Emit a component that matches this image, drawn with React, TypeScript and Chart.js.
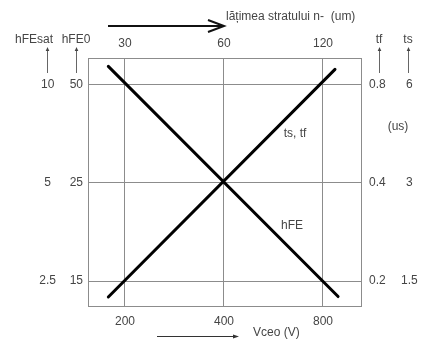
import React, { useEffect, useRef } from 'react';
import { Chart, registerables } from 'chart.js';

Chart.register(...registerables);

// Tick values / labels
const vceoTicks = [200, 400, 800];
const widthTicks = [30, 60, 120];
const hFEsatTicks = [2.5, 5, 10];
const hFE0TickValues = [12.5, 25, 50];
const hFE0TickLabels = ['15', '25', '50'];
const tfTicks = [0.2, 0.4, 0.8];
const tsTicks = [1.5, 3, 6];

// Series
const hFEVceo = [178, 889];
const hFEValues = [57, 11.2]; // in hFE0 units
const tsVceo = [178, 870];
const tsValues = [1.34, 6.7]; // ts in us

// Axis ranges
const vceoRange = [154.4, 1043.8];
const widthRange = [23.16, 156.6];
const hFEsatRange = [2.095, 12.1];
const hFE0Range = [10.475, 60.5];
const tfRange = [0.1676, 0.968];
const tsRange = [1.257, 7.26];

const FONT = "'Liberation Sans', Arial, sans-serif";
const TEXT = '#454545';
const GRID = '#8c8c8c';

const setTicks = (vals: number[]) => (s: any) => {
  s.ticks = vals.map((v) => ({ value: v }));
};

const overlayPlugin = {
  id: 'overlay',
  afterDraw(chart: any) {
    const ctx = chart.ctx as CanvasRenderingContext2D;
    ctx.save();
    ctx.fillStyle = TEXT;
    ctx.font = `12px ${FONT}`;
    ctx.textAlign = 'center';
    ctx.textBaseline = 'middle';
    // axis titles above label columns
    ctx.fillText('hFEsat', 34, 40);
    ctx.fillText('hFE0', 76, 40);
    ctx.fillText('tf', 379, 40);
    ctx.fillText('ts', 408, 40);
    ctx.fillText('(us)', 398, 127);
    ctx.fillText('ts, tf', 295, 134);
    ctx.fillText('hFE', 292, 226);
    ctx.textAlign = 'left';
    ctx.fillText('lățimea stratului n-  (um)', 226, 17);
    ctx.fillText('Vceo (V)', 253, 333);

    // small up arrows
    ctx.strokeStyle = '#666';
    ctx.lineWidth = 1;
    for (const x of [47.5, 76.5, 379.5, 408.5]) {
      ctx.beginPath();
      ctx.moveTo(x, 73);
      ctx.lineTo(x, 49);
      ctx.stroke();
      ctx.beginPath();
      ctx.fillStyle = '#444';
      ctx.moveTo(x, 47);
      ctx.lineTo(x - 1.8, 51);
      ctx.lineTo(x + 1.8, 51);
      ctx.closePath();
      ctx.fill();
    }

    // top big arrow
    ctx.strokeStyle = '#111';
    ctx.lineWidth = 2;
    ctx.beginPath();
    ctx.moveTo(108, 26);
    ctx.lineTo(222, 26);
    ctx.stroke();
    ctx.beginPath();
    ctx.moveTo(208, 20);
    ctx.lineTo(224, 26);
    ctx.lineTo(208, 32);
    ctx.stroke();

    // bottom small arrow
    ctx.strokeStyle = '#333';
    ctx.lineWidth = 1;
    ctx.beginPath();
    ctx.moveTo(157, 336.5);
    ctx.lineTo(234, 336.5);
    ctx.stroke();
    ctx.fillStyle = '#333';
    ctx.beginPath();
    ctx.moveTo(239, 336.5);
    ctx.lineTo(233, 334.5);
    ctx.lineTo(233, 338.5);
    ctx.closePath();
    ctx.fill();
    ctx.restore();
  },
};

export default function App() {
  const ref = useRef<HTMLCanvasElement | null>(null);
  useEffect(() => {
    if (!ref.current) return;
    const tickFont = { family: FONT, size: 12 };
    const chart = new Chart(ref.current, {
      type: 'scatter',
      data: {
        datasets: [
          {
            label: 'hFE',
            data: hFEVceo.map((x, i) => ({ x, y: hFEValues[i] })),
            showLine: true,
            borderColor: '#000',
            borderWidth: 3,
            borderCapStyle: 'round',
            pointRadius: 0,
            xAxisID: 'x',
            yAxisID: 'hfe0',
          },
          {
            label: 'ts, tf',
            data: tsVceo.map((x, i) => ({ x, y: tsValues[i] })),
            showLine: true,
            borderColor: '#000',
            borderWidth: 3,
            borderCapStyle: 'round',
            pointRadius: 0,
            xAxisID: 'x',
            yAxisID: 'ts',
          },
        ],
      },
      options: {
        responsive: false,
        animation: false,
        devicePixelRatio: 1,
        layout: { padding: 0 },
        plugins: { legend: { display: false }, tooltip: { enabled: false } },
        scales: {
          x: {
            type: 'logarithmic',
            position: 'bottom',
            min: vceoRange[0],
            max: vceoRange[1],
            afterBuildTicks: setTicks(vceoTicks),
            afterFit: (s: any) => { s.height = 35; },
            ticks: { font: tickFont, color: TEXT, padding: 8, maxRotation: 0, autoSkip: false, callback: (v: any) => String(v) },
            grid: { color: GRID, lineWidth: 1, drawTicks: false },
            border: { display: true, color: GRID, width: 1 },
          },
          x2: {
            type: 'logarithmic',
            position: 'top',
            min: widthRange[0],
            max: widthRange[1],
            afterBuildTicks: setTicks(widthTicks),
            afterFit: (s: any) => { s.height = 58; },
            ticks: { font: tickFont, color: TEXT, padding: 7, maxRotation: 0, autoSkip: false, callback: (v: any) => String(v) },
            grid: { drawOnChartArea: false, drawTicks: false },
            border: { display: true, color: GRID, width: 1 },
          },
          hfesat: {
            type: 'logarithmic',
            position: 'left',
            weight: 2,
            min: hFEsatRange[0],
            max: hFEsatRange[1],
            afterBuildTicks: setTicks(hFEsatTicks),
            afterFit: (s: any) => { s.width = 62; },
            ticks: { font: tickFont, color: TEXT, padding: 6, crossAlign: 'center', autoSkip: false, callback: (v: any) => String(v) },
            grid: { color: GRID, lineWidth: 1, drawTicks: false },
            border: { display: false },
          },
          hfe0: {
            type: 'logarithmic',
            position: 'left',
            weight: 1,
            min: hFE0Range[0],
            max: hFE0Range[1],
            afterBuildTicks: setTicks(hFE0TickValues),
            afterFit: (s: any) => { s.width = 26; },
            ticks: { font: tickFont, color: TEXT, padding: 5, autoSkip: false, callback: (_v: any, i: number) => hFE0TickLabels[i] },
            grid: { drawOnChartArea: false, drawTicks: false },
            border: { display: true, color: GRID, width: 1 },
          },
          tf: {
            type: 'logarithmic',
            position: 'right',
            weight: 1,
            min: tfRange[0],
            max: tfRange[1],
            afterBuildTicks: setTicks(tfTicks),
            afterFit: (s: any) => { s.width = 30; },
            ticks: { font: tickFont, color: TEXT, padding: 8, autoSkip: false, callback: (v: any) => String(v) },
            grid: { drawOnChartArea: false, drawTicks: false },
            border: { display: true, color: GRID, width: 1 },
          },
          ts: {
            type: 'logarithmic',
            position: 'right',
            weight: 2,
            min: tsRange[0],
            max: tsRange[1],
            afterBuildTicks: setTicks(tsTicks),
            afterFit: (s: any) => { s.width = 32; },
            ticks: { font: tickFont, color: TEXT, padding: 10, crossAlign: 'center', autoSkip: false, callback: (v: any) => String(v) },
            grid: { drawOnChartArea: false, drawTicks: false },
            border: { display: false },
          },
        },
      } as any,
      plugins: [overlayPlugin],
    });
    return () => chart.destroy();
  }, []);
  return (
    <div style={{ position: 'fixed', left: 0, top: 0, width: 423, height: 341, background: '#fff' }}>
      <canvas ref={ref} width={423} height={341} style={{ display: 'block' }} />
    </div>
  );
}
